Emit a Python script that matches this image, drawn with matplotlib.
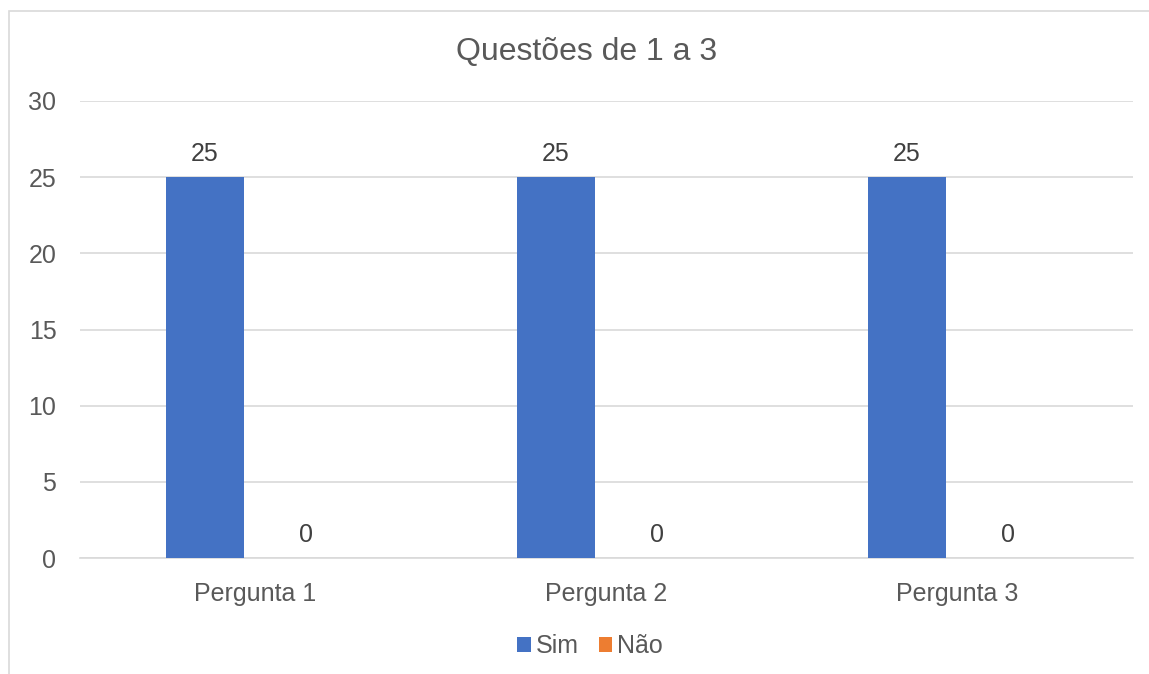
import numpy as np
import matplotlib as mpl
mpl.use("Agg")
from matplotlib import pyplot as plt
from matplotlib.patches import Rectangle

categories = ["Pergunta 1", "Pergunta 2", "Pergunta 3"]
sim = [25, 25, 25]
nao = [0, 0, 0]
series_names = ["Sim", "Não"]
yticks = [0, 5, 10, 15, 20, 25, 30]

plt.rcParams["font.family"] = ["Liberation Sans", "DejaVu Sans"]
txt = "#595959"
W, H = 1149, 674
fs = 18

fig = plt.figure(figsize=(W / 100, H / 100), dpi=100)
# outer chart border (clipped by the image at right and bottom)
fig.patches.append(Rectangle((9 / W, -0.1), 1.2, (H - 11) / H + 0.1, transform=fig.transFigure,
                             fill=False, edgecolor="#d9d9d9", lw=1.2))

ax = fig.add_axes([80 / W, (H - 558) / H, (1133 - 80) / W, (558 - 101) / H])
x = np.arange(len(categories))
bw = 0.222
off = 0.144
b1 = ax.bar(x - off, sim, bw, color="#4472C4", label=series_names[0], zorder=3)
b2 = ax.bar(x + off, nao, bw, color="#ED7D31", label=series_names[1], zorder=3)

for bars, vals in [(b1, sim), (b2, nao)]:
    for r, v in zip(bars, vals):
        ax.annotate(str(v), (r.get_x() + r.get_width() / 2, v), xytext=(0, 8),
                    textcoords="offset points", ha="center", va="bottom",
                    fontsize=fs, color="#404040")

ax.set_xlim(-0.5, 2.5)
ax.set_ylim(0, 30)
ax.set_yticks(yticks)
ax.set_xticks(x)
ax.set_xticklabels(categories)
ax.tick_params(length=0, labelsize=fs, labelcolor=txt)
ax.tick_params(axis="y", pad=17)
ax.tick_params(axis="x", pad=17)
ax.grid(axis="y", color="#d9d9d9", lw=1.2, zorder=0)
for s in ["top", "right", "left"]:
    ax.spines[s].set_visible(False)
ax.spines["bottom"].set_color("#d9d9d9")
ax.spines["bottom"].set_linewidth(1.2)

fig.text(587 / W, 1 - 52 / H, "Questões de 1 a 3", ha="center", va="center",
         fontsize=23, color=txt)
fig.legend(loc="center", bbox_to_anchor=(590 / W, 1 - 646 / H), ncol=2, frameon=False,
           fontsize=fs, labelcolor=txt, handlelength=0.55, handleheight=0.55,
           handletextpad=0.2, columnspacing=0.8)

fig.savefig("out.png", dpi=100)
